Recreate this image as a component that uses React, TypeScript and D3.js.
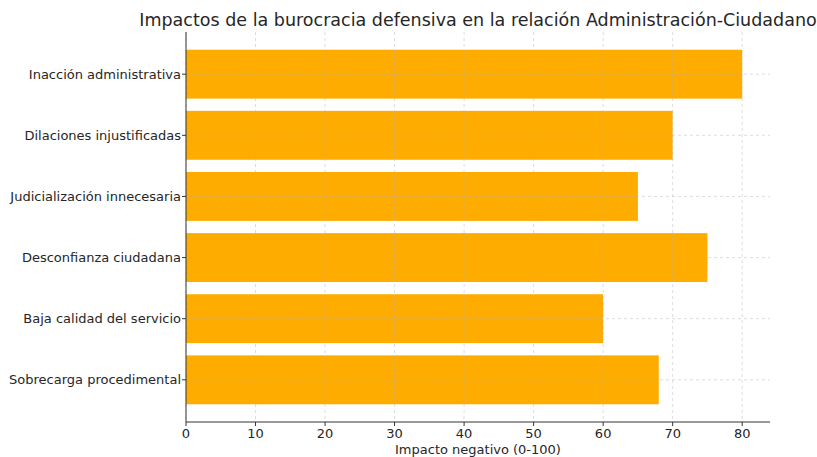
import React from "react";
import * as d3 from "d3";

const categories = [
  "Inacción administrativa",
  "Dilaciones injustificadas",
  "Judicialización innecesaria",
  "Desconfianza ciudadana",
  "Baja calidad del servicio",
  "Sobrecarga procedimental",
];
const values = [80, 70, 65, 75, 60, 68];
const xTicks = [0, 10, 20, 30, 40, 50, 60, 70, 80];
const title = "Impactos de la burocracia defensiva en la relación Administración-Ciudadano";
const xLabel = "Impacto negativo (0-100)";

const W = 817;
const H = 457;
const left = 186;
const right = 770;
const top = 32;
const bottom = 422;
const font = "'DejaVu Sans', sans-serif";
const textColor = "#262626";

export default function App() {
  const x = d3.scaleLinear().domain([0, 84]).range([left, right]);
  const y = d3.scaleLinear().domain([-0.69, 5.69]).range([top, bottom]);
  const bh = y(0.4) - y(-0.4);
  return (
    <svg width={W} height={H} style={{ position: "absolute", left: 0, top: 0, background: "#fff" }}>
      {values.map((v, i) => (
        <rect key={i} x={x(0)} y={y(i) - bh / 2} width={x(v) - x(0)} height={bh} fill="#ffac00" />
      ))}
      {xTicks.map((t) => (
        <line key={"gx" + t} x1={x(t)} x2={x(t)} y1={top} y2={bottom} stroke="#b0b0b0" strokeOpacity={0.55} strokeDasharray="3,3" strokeWidth={0.8} />
      ))}
      {categories.map((c, i) => (
        <line key={"gy" + i} x1={left} x2={right} y1={y(i)} y2={y(i)} stroke="#b0b0b0" strokeOpacity={0.55} strokeDasharray="3,3" strokeWidth={0.8} />
      ))}
      <line x1={left} x2={left} y1={top} y2={bottom} stroke="#333" strokeWidth={1} />
      <line x1={left} x2={right} y1={bottom} y2={bottom} stroke="#333" strokeWidth={1} />
      {xTicks.map((t) => (
        <g key={"xt" + t}>
          <line x1={x(t)} x2={x(t)} y1={bottom} y2={bottom + 4} stroke="#333" />
          <text x={x(t)} y={bottom + 16} textAnchor="middle" fontFamily={font} fontSize={13} fill={textColor}>
            {t}
          </text>
        </g>
      ))}
      {categories.map((c, i) => (
        <g key={"yt" + i}>
          <line x1={left - 4} x2={left} y1={y(i)} y2={y(i)} stroke="#333" />
          <text x={left - 5} y={y(i)} dy="0.35em" textAnchor="end" fontFamily={font} fontSize={13} fill={textColor}>
            {c}
          </text>
        </g>
      ))}
      <text x={x(42)} y={bottom + 32} textAnchor="middle" fontFamily={font} fontSize={13} fill={textColor}>
        {xLabel}
      </text>
      <text x={478} y={26} textAnchor="middle" fontFamily={font} fontSize={17.5} fill={textColor}>
        {title}
      </text>
    </svg>
  );
}
